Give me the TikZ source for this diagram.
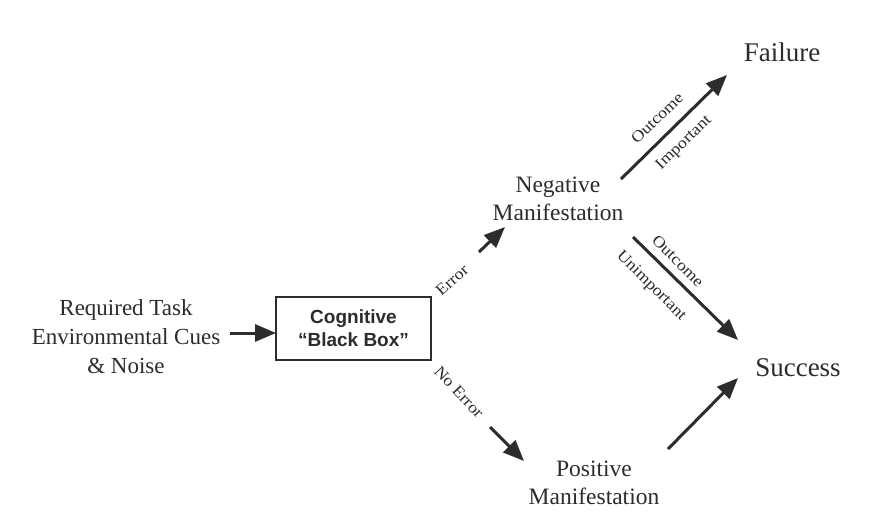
\documentclass[tikz,border=0pt]{standalone}
\usepackage{fontspec}
\setmainfont{Liberation Serif}
\setsansfont{Liberation Sans}
\usetikzlibrary{arrows.meta}
\definecolor{ink}{HTML}{2C2C2C}
\tikzset{
  flow/.style={draw=ink, line width=3pt, -{Triangle[length=21pt,width=17pt]}},
  term/.style={text=ink, font=\fontsize{27}{30}\selectfont, align=center, inner sep=0pt},
  state/.style={text=ink, font=\fontsize{23.5}{28.5}\selectfont, align=center, inner sep=0pt},
  boxnode/.style={draw=ink, line width=1.4pt, text=ink, minimum width=155pt, minimum height=63pt,
    font=\sffamily\bfseries\fontsize{19}{23}\selectfont, align=center, inner sep=0pt},
  tag/.style={text=ink, font=\fontsize{16}{18}\selectfont, inner sep=0pt}
}
\newcommand{\wide}[1]{\scalebox{1.12}[1]{#1}}
\begin{document}
\begin{tikzpicture}[x=1pt,y=-1pt]
  \useasboundingbox[fill=white] (0,0) rectangle (887,515);

  % terms and states
  \node[state, font=\fontsize{23}{29}\selectfont] (input) at (126,337) {Required Task\\Environmental Cues\\\& Noise};
  \node[boxnode] (cbb) at (353.5,328.5) {Cognitive\\``Black Box''};
  \node[state] (neg) at (558,199) {Negative\\Manifestation};
  \node[state] (pos) at (594,483) {Positive\\Manifestation};
  \node[term] (fail) at (782,52) {Failure};
  \node[term] (succ) at (798,368) {Success};

  % arrow end points
  \coordinate (inA) at (230,333);  \coordinate (inB) at (276,333);
  \coordinate (erA) at (479,252);  \coordinate (erB) at (505,227);
  \coordinate (neA) at (490,427);  \coordinate (neB) at (524,461);
  \coordinate (faA) at (621,179);  \coordinate (faB) at (727,75);
  \coordinate (unA) at (633,237);  \coordinate (unB) at (738,340);
  \coordinate (poA) at (668,449);  \coordinate (poB) at (738,378);

  % connectors
  \draw[flow] (inA) -- (inB);
  \draw[flow] (erA) -- (erB);
  \draw[flow] (neA) -- (neB);
  \draw[flow] (faA) -- (faB);
  \draw[flow] (unA) -- (unB);
  \draw[flow] (poA) -- (poB);

  % connector labels
  \node[tag, rotate=42] (lerr) at (452,280) {\wide{Error}};
  \node[tag, rotate=-47] (lnoerr) at (459,392) {\wide{No Error}};
  \node[tag, rotate=44] (lout1) at (657,118) {\wide{Outcome}};
  \node[tag, rotate=44] (limp) at (684,143) {\wide{Important}};
  \node[tag, rotate=-45] (lout2) at (678,261) {\wide{Outcome}};
  \node[tag, rotate=-45] (lunimp) at (651,286) {\wide{Unimportant}};
\end{tikzpicture}
\end{document}
